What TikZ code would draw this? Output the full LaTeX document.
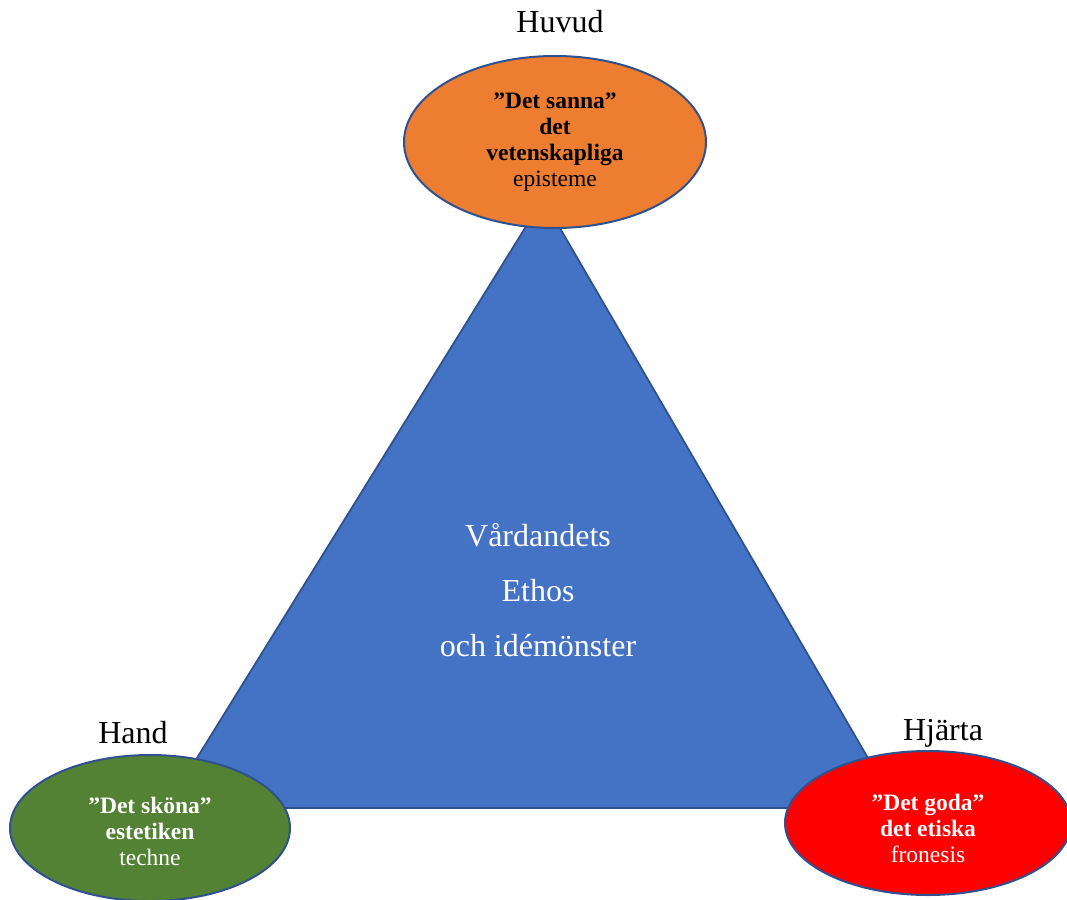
\documentclass[tikz,border=0pt]{standalone}
\usepackage{fontspec}
\setmainfont{Liberation Serif}
\usetikzlibrary{shapes.geometric}

\definecolor{triblue}{HTML}{4472C4}
\definecolor{edgeblue}{HTML}{2F528F}
\definecolor{sannaorange}{HTML}{ED7D31}
\definecolor{skongreen}{HTML}{548235}
\definecolor{godared}{HTML}{FF0000}

\tikzset{
  blob/.style={ellipse, draw=edgeblue, line width=2pt, inner sep=0pt},
  blobtext/.style={align=center, inner sep=0pt, font=\fontsize{23.5}{26}\selectfont},
  corner/.style={font=\fontsize{32}{34}\selectfont, text=black, inner sep=0pt},
  core/.style={font=\fontsize{32}{55}\selectfont, text=white, align=center, inner sep=0pt}
}

\begin{document}
\begin{tikzpicture}[x=1pt, y=-1pt]
  \useasboundingbox (0,0) rectangle (1067,899);

  % the triangle
  \coordinate (apex) at (543,199);
  \coordinate (baseL) at (166,808);
  \coordinate (baseR) at (897,808);
  \draw[fill=triblue, draw=edgeblue, line width=1.8pt, line join=miter]
    (apex) -- (baseR) -- (baseL) -- cycle;

  \node[core] (ethos) at (538,590) {Vårdandets\\Ethos\\och idémönster};

  % the three ellipses
  \node[blob, fill=sannaorange, minimum width=302pt, minimum height=172pt] (sanna) at (555,142) {};
  \node[blobtext, text=black] (sannatext) at (sanna.center)
    {\textbf{”Det sanna”}\\\textbf{det}\\\textbf{vetenskapliga}\\episteme};

  \node[blob, fill=skongreen, minimum width=280pt, minimum height=146pt] (skona) at (150,828) {};
  \node[blobtext, text=white] (skonatext) at ([yshift=-3pt]skona.center)
    {\textbf{”Det sköna”}\\\textbf{estetiken}\\techne};

  \node[blob, fill=godared, minimum width=286pt, minimum height=144pt] (goda) at (928,823) {};
  \node[blobtext, text=white] (godatext) at ([yshift=-5pt]goda.center)
    {\textbf{”Det goda”}\\\textbf{det etiska}\\fronesis};

  % corner labels
  \node[corner] (huvud) at (560,22) {Huvud};
  \node[corner] (hand) at (133,733) {Hand};
  \node[corner] (hjarta) at (943,733) {Hjärta};
\end{tikzpicture}
\end{document}
